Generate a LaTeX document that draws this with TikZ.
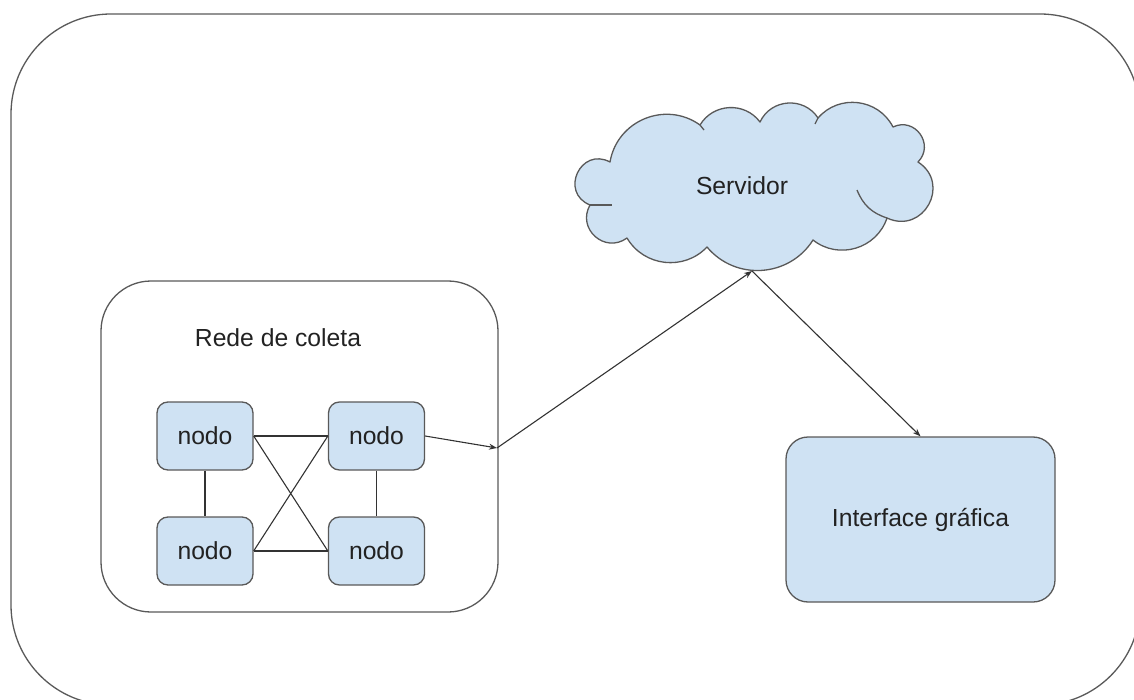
\documentclass[tikz,border=0pt]{standalone}
\usepackage{fontspec}
\setmainfont{Liberation Sans}
\usetikzlibrary{arrows.meta}
\definecolor{fillblue}{HTML}{CFE2F3}
\definecolor{edgegray}{HTML}{595959}
\definecolor{txt}{HTML}{222222}
\begin{document}
\begin{tikzpicture}[x=1pt,y=-1pt,
  every node/.style={font=\fontsize{24.7}{29}\selectfont, text=txt},
  nodobox/.style={draw=edgegray, fill=fillblue, line width=1.3pt, rounded corners=11pt, minimum width=96pt, minimum height=68pt, inner sep=0pt},
  conn/.style={draw=black!80, line width=1.1pt},
  arr/.style={conn, -{Stealth[length=8pt,width=6pt]}},
  cloudline/.style={draw=edgegray, line width=1.3pt, line join=round}]
\useasboundingbox (0,0) rectangle (1134,700);
% outer frame
\draw[draw=edgegray, line width=1.3pt, rounded corners=100pt] (11,14) rectangle (1140,705);
% rede box
\node[draw=edgegray, line width=1.3pt, rounded corners=50pt, minimum width=397pt, minimum height=331pt, inner sep=0pt] (rede) at (299.5,446.5) {};
\node (redelabel) at (278,338) {Rede de coleta};
% nodes
\node[nodobox] (tl) at (205,436) {nodo};
\node[nodobox] (tr) at (376.5,436) {nodo};
\node[nodobox] (bl) at (205,551) {nodo};
\node[nodobox] (br) at (376.5,551) {nodo};
\draw[conn] (tl.east) -- (tr.west);
\draw[conn] (bl.east) -- (br.west);
\draw[conn] (tl.east) -- (br.west);
\draw[conn] (bl.east) -- (tr.west);
\draw[conn] (tl.south) -- (bl.north);
\draw[conn] (tr.south) -- (br.north);
% server cloud
\coordinate (p1) at (610,162);
\coordinate (p2) at (700,125);
\coordinate (p3) at (760,122);
\coordinate (p4) at (818,118);
\coordinate (p5) at (893,127);
\coordinate (p6) at (918,162);
\coordinate (p7) at (887,218);
\coordinate (p8) at (813,240);
\coordinate (p9) at (707,247);
\coordinate (p10) at (627,238);
\coordinate (p11) at (590,205);
\path[cloudline, fill=fillblue] (p1)
  to[bend left=58, looseness=1.11] (p2)
  to[bend left=56, looseness=1.09] (p3)
  to[bend left=61, looseness=1.14] (p4)
  to[bend left=56, looseness=1.09] (p5)
  to[bend left=80, looseness=1.45] (p6)
  to[bend left=86, looseness=1.6] (p7)
  to[bend left=55, looseness=1.08] (p8)
  to[bend left=54, looseness=1.07] (p9)
  to[bend left=53, looseness=1.06] (p10)
  to[bend left=78, looseness=1.41] (p11)
  to[bend left=93, looseness=1.8] (p1) -- cycle;
\draw[cloudline] (p11) -- ++(22,0);
\draw[cloudline] (p7) to[bend left=25] ++(-30,-28);
\draw[cloudline] (p2) -- ++(4,5);
\draw[cloudline] (p4) -- ++(-3,6);
\node (srv) at (742,186) {Servidor};
% interface
\node[draw=edgegray, fill=fillblue, line width=1.3pt, rounded corners=22pt, minimum width=269pt, minimum height=165pt, inner sep=0pt] (iface) at (920.5,519.5) {Interface gráfica};
% connectors
\coordinate (junc) at (497,448);
\coordinate (srvpt) at (752,271);
\draw[arr] (tr.east) -- (junc);
\draw[arr] (junc) -- (srvpt);
\draw[arr] (srvpt) -- (iface.north);
\end{tikzpicture}
\end{document}
